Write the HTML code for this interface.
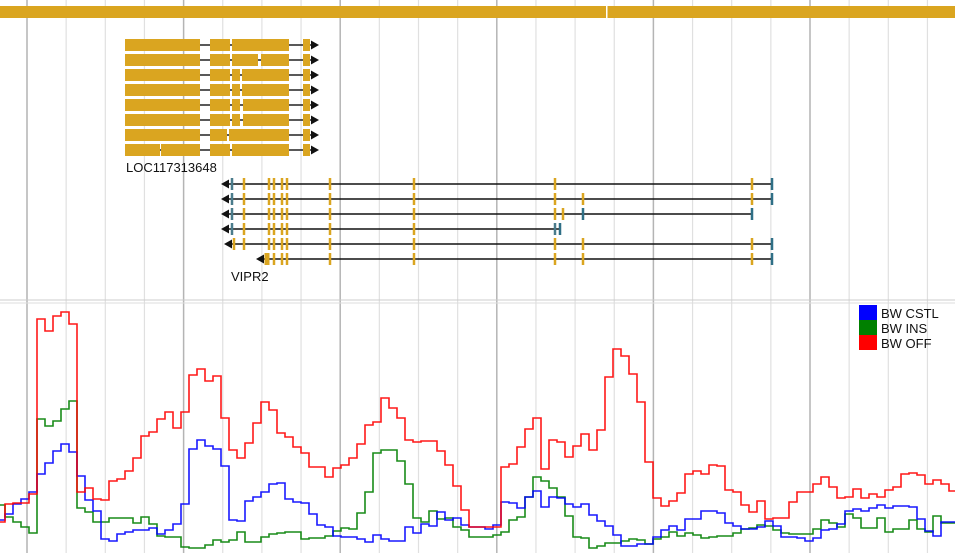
<!DOCTYPE html>
<html><head><meta charset="utf-8"><style>
html,body{margin:0;padding:0;background:#fff;}
svg{display:block;font-family:"Liberation Sans",sans-serif;}
</style></head><body>
<svg id="v" width="955" height="553" viewBox="0 0 955 553">
<g id="grid"></g>
<rect x="0" y="6" width="955" height="12" fill="#daa520"/>
<rect x="606" y="6" width="1.5" height="12" fill="#fff"/>
<g id="loc"></g>
<text x="126" y="172" font-size="13" fill="#111">LOC117313648</text>
<g id="vipr"></g>
<text x="231" y="281" font-size="13" fill="#111">VIPR2</text>
<line x1="0" y1="300" x2="955" y2="300" stroke="#ccc"/>
<line x1="0" y1="303" x2="955" y2="303" stroke="#ddd"/>
<g id="plot"></g>
<g>
<rect x="859" y="305" width="18" height="15" fill="#0000ff"/>
<text x="881" y="318" font-size="13" fill="#111">BW CSTL</text>
<rect x="859" y="320" width="18" height="15" fill="#008000"/>
<text x="881" y="333" font-size="13" fill="#111">BW INS</text>
<rect x="859" y="335" width="18" height="15" fill="#ff0000"/>
<text x="881" y="348" font-size="13" fill="#111">BW OFF</text>
</g>
</svg>
<script>
// coverage values per 8px bin (height above baseline)
const binStart = -3, binWidth = 8;
const offValues = [31,49,50,50,59,234,222,237,241,229,61,65,54,53,72,74,82,95,117,121,134,141,125,141,178,184,172,177,135,103,95,110,130,151,143,120,116,106,100,86,86,76,85,88,95,109,128,131,155,145,135,113,111,112,112,102,88,67,43,26,26,26,26,86,89,106,124,135,84,113,111,96,107,119,103,123,176,204,197,179,151,91,55,47,52,60,79,82,79,88,87,63,61,48,41,52,34,35,35,51,61,61,69,76,66,55,56,64,55,59,56,63,66,79,80,78,69,73,69,62];
const insValues = [48,36,31,26,20,134,127,132,144,152,45,41,31,31,35,35,35,30,36,29,17,16,16,6,5,5,8,13,11,13,21,11,11,16,19,20,21,21,14,15,15,17,22,25,24,40,61,100,103,103,92,69,35,31,42,34,35,26,23,16,16,16,18,21,33,36,56,76,72,65,56,37,16,15,5,7,10,10,12,14,13,9,14,16,21,17,20,18,15,16,17,17,20,24,25,28,27,23,20,19,19,19,24,33,30,26,39,35,25,25,35,21,24,24,33,24,21,37,30,30];
const cstlValues = [33,39,49,54,61,79,90,102,109,101,77,53,42,14,12,19,21,23,23,25,19,23,29,49,104,113,107,104,87,33,32,52,56,61,69,70,54,51,50,39,28,26,17,16,16,14,11,18,14,12,12,26,20,29,27,41,33,35,28,26,26,24,28,51,50,45,56,62,46,56,55,49,46,49,38,32,27,18,7,7,9,9,16,23,27,23,34,34,42,42,40,30,27,24,24,26,32,27,16,16,15,12,15,23,24,29,42,44,42,45,48,45,47,47,46,34,22,17,31,31];
const baseY = 553, yScale = 1;
const xOf = i => binStart + i*binWidth;
const yOf = v => baseY - v*yScale;

const NS="http://www.w3.org/2000/svg";
function mk(tag, attrs, parent){const e=document.createElementNS(NS,tag);for(const k in attrs)e.setAttribute(k,attrs[k]);parent.appendChild(e);return e;}

// grid
const grid=document.getElementById('grid');
for(let k=0;k<24;k++){
  const x=27+k*39.15;
  const dark=(k%4===0);
  const l=mk('line',{x1:x,y1:0,x2:x,y2:553,stroke:dark?'#b4b4b4':'#e0e0e0','stroke-width':dark?1.5:1.2},grid);
  
  
}

// LOC gene
const loc=document.getElementById('loc');
const locRows=[
 [[125,200],[210,230],[232,289],[303,310]],
 [[125,200],[210,230],[232,258],[261,289],[303,310]],
 [[125,200],[210,230],[232,240],[242,289],[303,310]],
 [[125,200],[210,230],[232,240],[242,289],[303,310]],
 [[125,200],[210,230],[232,240],[243,289],[303,310]],
 [[125,200],[210,230],[232,240],[243,289],[303,310]],
 [[125,200],[210,227],[229,289],[303,310]],
 [[125,160],[161,200],[210,230],[232,289],[303,310]]
];
locRows.forEach((row,r)=>{
  const cy=45+r*15;
  const g=mk('g',{},loc);
  
  
  mk('line',{x1:125,y1:cy,x2:312,y2:cy,stroke:'#222','stroke-width':1.5},g);
  row.forEach(e=>{mk('rect',{x:e[0],y:cy-6,width:e[1]-e[0],height:12,fill:'#daa520'},g);});
  mk('path',{d:`M311 ${cy-4.5} L319 ${cy} L311 ${cy+4.5}Z`,fill:'#111'},g);
});

// VIPR2 gene
const vipr=document.getElementById('vipr');
const vRows=[
 {a:221,end:772,ex:[[232,'#4a7c8c'],244,269,274,282,287,330,414,555,752,[772,'#2f6f86']]},
 {a:221,end:772,ex:[[232,'#4a7c8c'],244,269,274,282,287,330,414,555,583,752,[772,'#2f6f86']]},
 {a:221,end:752,ex:[[232,'#4a7c8c'],244,269,274,282,287,330,414,555,563,[583,'#2f6f86'],[752,'#2f6f86']]},
 {a:221,end:560,ex:[[232,'#4a7c8c'],244,269,274,282,287,330,414,[555,'#4a7c8c'],[560,'#2f6f86']]},
 {a:224,end:772,ex:[234,244,269,274,282,287,330,414,555,583,752,[772,'#2f6f86']]},
 {a:256,end:772,ex:[[267,'#daa520',5],274,282,287,330,414,555,583,752,[772,'#2f6f86']]}
];
vRows.forEach((r,i)=>{
  const cy=184+i*15;
  const g=mk('g',{},vipr);
  
  
  mk('line',{x1:r.a+6,y1:cy,x2:r.end,y2:cy,stroke:'#111','stroke-width':1.5},g);
  mk('path',{d:`M${r.a} ${cy} L${r.a+8} ${cy-4.5} L${r.a+8} ${cy+4.5}Z`,fill:'#111'},g);
  r.ex.forEach(e=>{
    let x=e,c='#daa520',w=2.5;
    if(Array.isArray(e)){x=e[0];c=e[1];if(e[2])w=e[2];}
    mk('rect',{x:x-w/2,y:cy-6,width:w,height:12,fill:c},g);
  });
});

// plot
const plot=document.getElementById('plot');
function stepPath(vals){
  let d='';
  vals.forEach((v,i)=>{
    const x0=xOf(i),x1=xOf(i+1),y=yOf(v);
    d+=(i===0?`M${x0} ${y}`:` L${x0} ${y}`)+` L${x1} ${y}`;
  });
  return d;
}
[[insValues,'#008000','series-ins'],[cstlValues,'#0000ff','series-cstl'],[offValues,'#ff0000','series-off']].forEach(s=>{
  const p=mk('path',{d:stepPath(s[0]),fill:'none',stroke:s[1],'stroke-width':1.6,'stroke-opacity':0.9},plot);
  
  
});
</script>
</body></html>
